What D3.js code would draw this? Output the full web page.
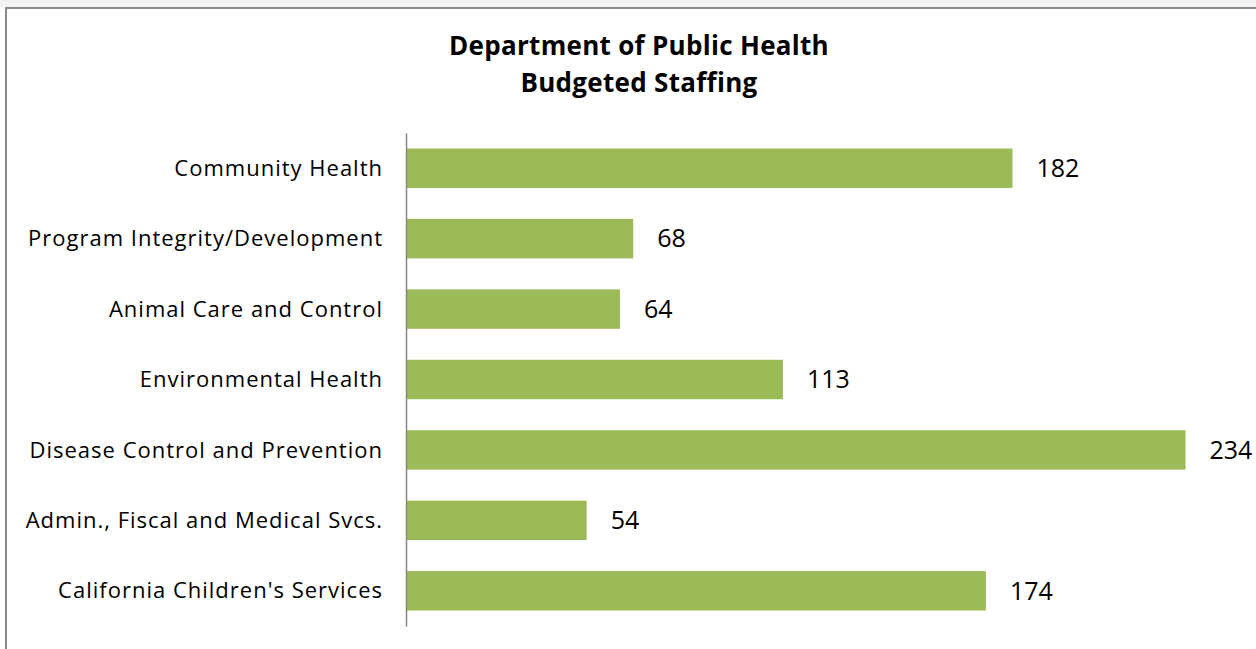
<!DOCTYPE html>
<html>
<head>
    <title>Department of Public Health Budgeted Staffing</title>
    <script src="https://cdn.jsdelivr.net/npm/d3@7/dist/d3.min.js"></script>
    <style>
        body { margin: 0; background: #fff; }
        svg { display: block; }
        .cat text { font-family: "Open Sans", sans-serif; font-size: 22px; letter-spacing: 1px; fill: #000; }
    </style>
</head>
<body>
    <svg id="chart" width="1256" height="649"></svg>
    <script>
        const categories = [
            "Community Health",
            "Program Integrity/Development",
            "Animal Care and Control",
            "Environmental Health",
            "Disease Control and Prevention",
            "Admin., Fiscal and Medical Svcs.",
            "California Children's Services"
        ];
        const staffing = [182, 68, 64, 113, 234, 54, 174];
        const titleLines = ["Department of Public Health", "Budgeted Staffing"];

        const data = categories.map((c, i) => ({ name: c, value: staffing[i] }));

        const svg = d3.select("#chart");
        const width = 1256, height = 649;
        const left = 406;

        // faint strip above the frame
        svg.append("rect").attr("x", 0).attr("y", 0).attr("width", width).attr("height", 7)
            .attr("fill", "#f3f3f3");
        // chart frame
        svg.append("rect").attr("x", 6).attr("y", 8).attr("width", width + 20).attr("height", height + 20)
            .attr("fill", "#fff").attr("stroke", "#8a8a8a").attr("stroke-width", 2);

        const x = d3.scaleLinear().domain([0, 250]).range([left + 1, left + 1 + 250 * 3.327]);
        const y = d3.scaleBand().domain(categories).range([133, 626])
            .paddingInner(0.44).paddingOuter(0.22);

        svg.append("g").attr("class", "title")
            .selectAll("text").data(titleLines).enter().append("text")
            .attr("x", 639).attr("y", (d, i) => 55 + i * 37)
            .attr("text-anchor", "middle")
            .style("font-family", "'Open Sans', sans-serif")
            .style("font-weight", "bold").style("font-size", "26px")
            .style("letter-spacing", "0.3px")
            .text(d => d);

        svg.append("g").selectAll("rect").data(data).enter().append("rect")
            .attr("x", x(0))
            .attr("y", d => y(d.name))
            .attr("width", d => x(d.value) - x(0))
            .attr("height", y.bandwidth())
            .attr("fill", "#9bbb59");

        const axis = svg.append("g").attr("class", "cat")
            .attr("transform", `translate(${left},0)`)
            .call(d3.axisLeft(y).tickSize(0).tickSizeOuter(0).tickPadding(23));
        axis.select(".domain").attr("stroke", "#868686").attr("stroke-width", 1.5);
        axis.selectAll("text").attr("dy", "0.35em");

        svg.append("g").selectAll("text").data(data).enter().append("text")
            .attr("x", d => x(d.value) + 24)
            .attr("y", d => y(d.name) + y.bandwidth() / 2)
            .attr("dy", "0.35em")
            .style("font-family", "'Open Sans', sans-serif")
            .style("font-size", "25px")
            .text(d => d.value);
    </script>
</body>
</html>
